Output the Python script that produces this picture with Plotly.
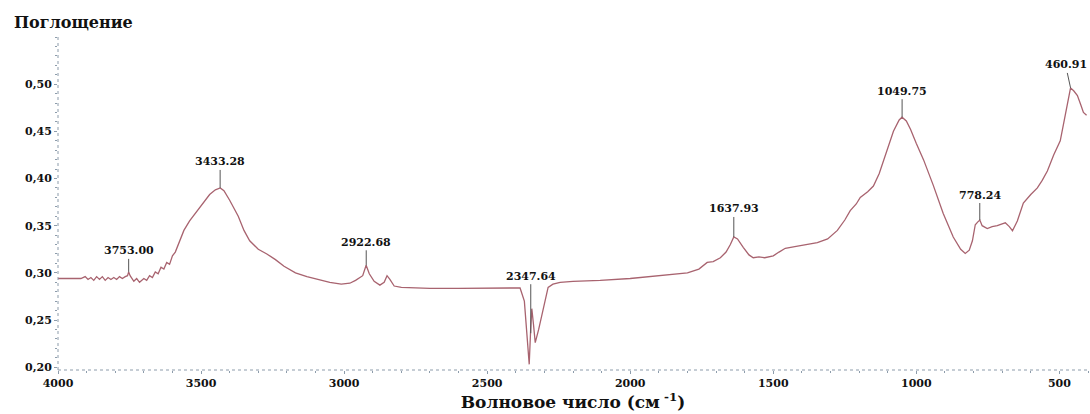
import plotly.graph_objects as go

wavenumber = [4000, 3950, 3920, 3905, 3895, 3885, 3875, 3865, 3855, 3845, 3835, 3825, 3815, 3805,
              3795, 3785, 3775, 3765, 3757, 3753, 3748, 3735, 3725, 3715, 3700, 3690, 3680, 3670,
              3660, 3650, 3640, 3630, 3620, 3610, 3600, 3590, 3575, 3560, 3540, 3520, 3500, 3470,
              3450, 3433, 3420, 3400, 3370, 3350, 3330, 3300, 3270, 3240, 3210, 3170, 3130, 3090,
              3050, 3010, 2980, 2960, 2945, 2935, 2923, 2912, 2895, 2875, 2860, 2850, 2840, 2825,
              2800, 2700, 2600, 2500, 2400, 2385, 2370, 2360, 2353, 2348, 2344, 2338, 2332, 2320,
              2304, 2287, 2270, 2245, 2200, 2105, 2000, 1900, 1800, 1760, 1740, 1731, 1710, 1685,
              1665, 1650, 1638, 1625, 1605, 1585, 1570, 1550, 1530, 1500, 1480, 1458, 1420, 1380,
              1346, 1310, 1276, 1250, 1231, 1210, 1196, 1170, 1150, 1130, 1115, 1095, 1080, 1060,
              1050, 1035, 1020, 1000, 975, 941, 906, 871, 845, 829, 815, 804, 794, 785, 778, 770,
              752, 735, 717, 700, 689, 675, 664, 647, 626, 600, 577, 560, 542, 520, 497, 479, 465,
              461, 450, 437, 425, 416, 405]
absorbance = [0.294, 0.294, 0.294, 0.296, 0.293, 0.295, 0.292, 0.296, 0.293, 0.296, 0.292, 0.295,
              0.293, 0.295, 0.293, 0.296, 0.294, 0.296, 0.297, 0.301, 0.297, 0.291, 0.294, 0.290,
              0.294, 0.292, 0.297, 0.295, 0.301, 0.299, 0.306, 0.304, 0.311, 0.309, 0.318, 0.322,
              0.333, 0.345, 0.355, 0.363, 0.371, 0.383, 0.388, 0.390, 0.387, 0.377, 0.360, 0.345,
              0.334, 0.325, 0.320, 0.314, 0.307, 0.300, 0.296, 0.293, 0.290, 0.288, 0.289, 0.292,
              0.295, 0.297, 0.308, 0.299, 0.291, 0.287, 0.290, 0.297, 0.293, 0.286, 0.2845, 0.2835,
              0.2835, 0.284, 0.2845, 0.284, 0.270, 0.235, 0.203, 0.240, 0.262, 0.245, 0.226, 0.240,
              0.263, 0.2845, 0.288, 0.290, 0.291, 0.292, 0.294, 0.297, 0.300, 0.304, 0.309, 0.311,
              0.312, 0.316, 0.322, 0.330, 0.338, 0.336, 0.327, 0.319, 0.316, 0.317, 0.316, 0.318,
              0.322, 0.326, 0.328, 0.330, 0.332, 0.336, 0.345, 0.356, 0.366, 0.373, 0.380, 0.386,
              0.392, 0.405, 0.418, 0.437, 0.450, 0.462, 0.465, 0.461, 0.452, 0.437, 0.420, 0.393,
              0.363, 0.338, 0.325, 0.3205, 0.324, 0.334, 0.351, 0.354, 0.356, 0.350, 0.347, 0.349,
              0.350, 0.352, 0.353, 0.349, 0.3447, 0.355, 0.374, 0.383, 0.390, 0.398, 0.408, 0.425,
              0.440, 0.468, 0.492, 0.496, 0.493, 0.488, 0.478, 0.470, 0.467]

peak_x = [3753.00, 3433.28, 2922.68, 2347.64, 1637.93, 1049.75, 778.24, 460.91]
peak_y = [0.301, 0.390, 0.308, 0.236, 0.338, 0.465, 0.356, 0.496]
peak_labels = ["3753.00", "3433.28", "2922.68", "2347.64", "1637.93", "1049.75", "778.24", "460.91"]
peak_offsets = [-21, -26, -23, -57, -28, -26, -25, -23]

x_ticks = [4000, 3500, 3000, 2500, 2000, 1500, 1000, 500]
y_ticks = [0.20, 0.25, 0.30, 0.35, 0.40, 0.45, 0.50]
y_tick_text = ["0,20", "0,25", "0,30", "0,35", "0,40", "0,45", "0,50"]

FONT = "DejaVu Serif"
axis_color = "#8d9cab"
text_color = "#111111"

fig = go.Figure()
fig.add_trace(go.Scatter(x=wavenumber, y=absorbance, mode="lines",
                         line=dict(color="#a8636f", width=1.3), hoverinfo="skip"))

for px, py, lab, off in zip(peak_x, peak_y, peak_labels, peak_offsets):
    fig.add_annotation(x=px, y=py, text="<b>" + lab + "</b>", showarrow=True, arrowhead=0,
                       arrowwidth=1, arrowcolor="#555555", ax=0, ay=off, standoff=0,
                       font=dict(family=FONT, size=11, color=text_color))
# keep the last label inside the page
fig.layout.annotations[-1].update(ax=-5)

fig.add_annotation(xref="paper", yref="paper", x=-0.045, y=1.0, yshift=3, xanchor="left",
                   yanchor="bottom", showarrow=False, text="<b>Поглощение</b>",
                   font=dict(family=FONT, size=16, color=text_color))

# dotted axis lines
fig.add_shape(type="line", xref="paper", yref="paper", x0=0, x1=1, y0=0, y1=0,
              line=dict(color=axis_color, width=1, dash="dot"))
fig.add_shape(type="line", xref="paper", yref="paper", x0=0, x1=0, y0=0, y1=1,
              line=dict(color=axis_color, width=1, dash="dot"))

fig.update_layout(
    width=1090, height=414,
    margin=dict(l=58, r=2, t=37, b=44),
    paper_bgcolor="white", plot_bgcolor="white",
    showlegend=False,
    font=dict(family=FONT, color=text_color),
    xaxis=dict(range=[4000, 400], tickvals=x_ticks,
               ticktext=["<b>%d</b>" % v for v in x_ticks], ticks="outside", ticklen=3,
               tickcolor=axis_color, showgrid=False, zeroline=False, showline=False,
               tickfont=dict(family=FONT, size=11, color=text_color),
               minor=dict(dtick=100, ticks="outside", ticklen=2, tickcolor=axis_color),
               title=dict(text="<b>Волновое число (см<sup> -1</sup>)</b>", standoff=2,
                          font=dict(family=FONT, size=17, color=text_color))),
    yaxis=dict(range=[0.197, 0.55], tickvals=y_ticks,
               ticktext=["<b>" + t + "</b>" for t in y_tick_text], ticks="outside",
               ticklen=3, tickcolor=axis_color, showgrid=False, zeroline=False, showline=False,
               tickfont=dict(family=FONT, size=11, color=text_color),
               minor=dict(dtick=0.01, ticks="outside", ticklen=2, tickcolor=axis_color)),
)

fig.write_html("out.html")
